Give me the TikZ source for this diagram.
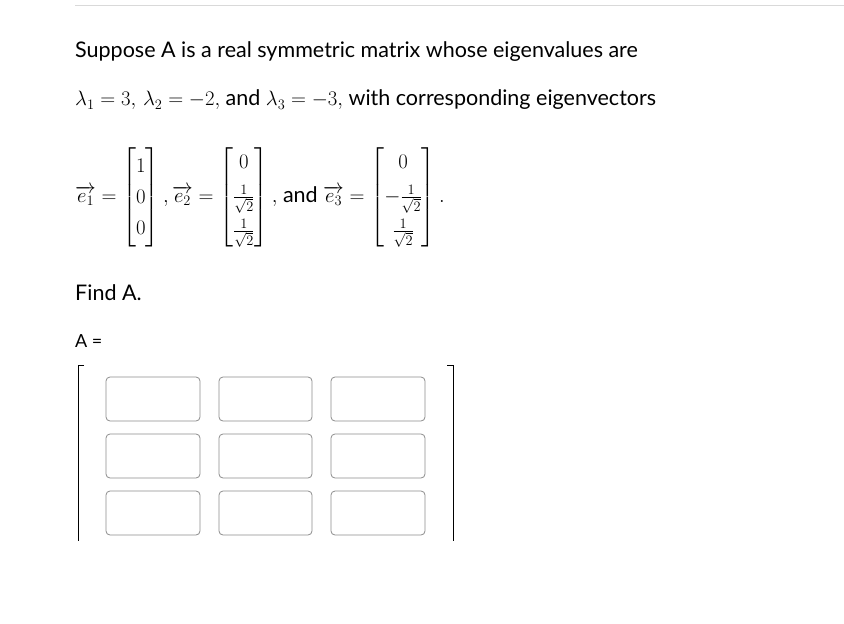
\documentclass[tikz,border=0pt]{standalone}
\usepackage{amsmath}
\usepackage{fontspec}
\setmainfont{Lato}
\begin{document}
\begin{tikzpicture}[x=1pt,y=-1pt,
  txt/.style={anchor=west,inner sep=0pt,font=\fontsize{21.5}{25}\selectfont},
  cell/.style={draw=gray!90,line width=0.8pt,rounded corners=4pt}]
\useasboundingbox (0,0) rectangle (844,624);
\draw[gray!30,line width=0.8pt] (75,5) -- (844,5);
\node[txt] (l1) at (75,52) {Suppose A is a real symmetric matrix whose eigenvalues are};
\node[txt] (l2) at (75,100) {$\lambda_1=3,\,\lambda_2=-2,$ and $\lambda_3=-3,$ with corresponding eigenvectors};
\node[txt] (m) at (75,197) {\renewcommand{\arraystretch}{1.25}$\overrightarrow{e_1}=\begin{bmatrix}1\\0\\0\end{bmatrix},\overrightarrow{e_2}=\begin{bmatrix}0\\[3pt]\frac{1}{\sqrt2}\\[3pt]\frac{1}{\sqrt2}\end{bmatrix},$ and $\overrightarrow{e_3}=\begin{bmatrix}0\\[3pt]-\frac{1}{\sqrt2}\\[3pt]\frac{1}{\sqrt2}\end{bmatrix}.$};
\node[txt] (f) at (75,293) {Find A.};
\node[txt,font=\fontsize{18}{20}\selectfont] (a) at (75,341) {A =};
\draw[line width=1pt] (84,365) -- (78,365) -- (78,541);
\draw[line width=1pt] (447,365) -- (453,365) -- (453,541);
\foreach \x/\w in {106/200,219/312,331/425}
  \foreach \y/\v in {377/421,434/478,491/535}
    \draw[cell] (\x,\y) rectangle (\w,\v);
\end{tikzpicture}
\end{document}
